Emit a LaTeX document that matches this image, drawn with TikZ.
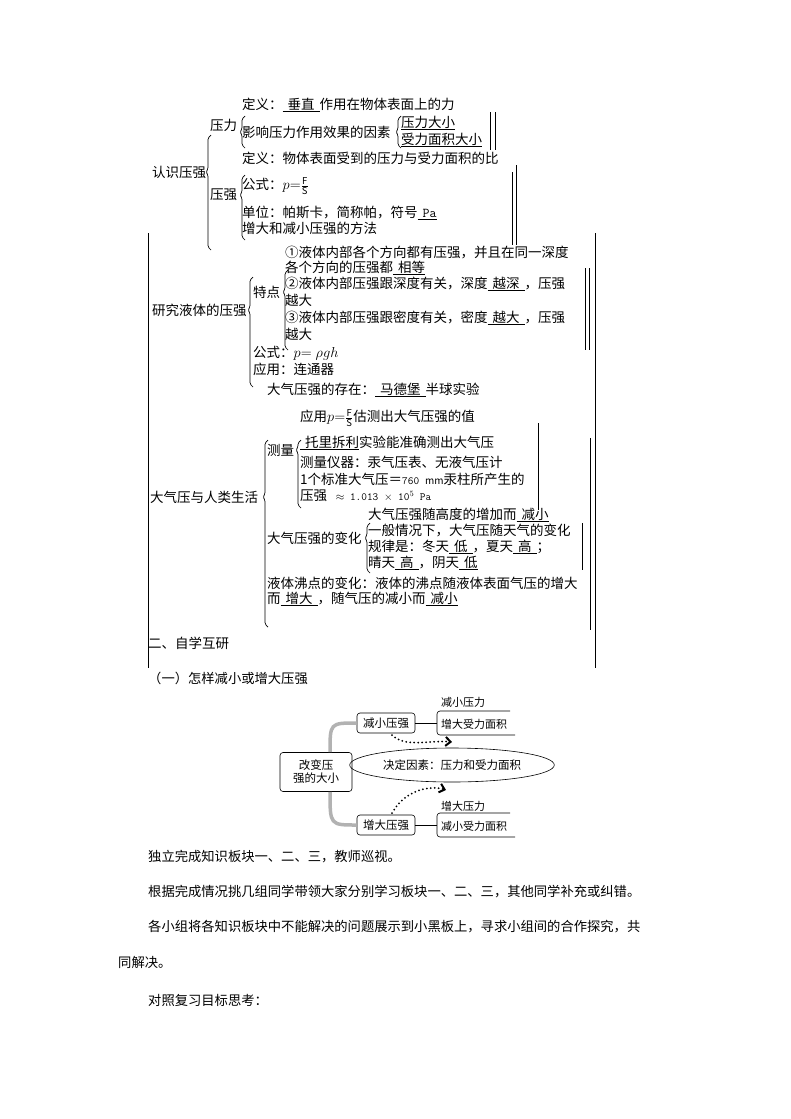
\documentclass[tikz,border=0pt]{standalone}
\usepackage{fontspec}
\setmainfont{Noto Sans CJK SC}
\usetikzlibrary{arrows.meta,shapes.geometric}
\newcommand{\bk}[1]{\underline{\hspace{5pt}#1\hspace{5pt}}}
\newcommand{\bkr}[1]{\underline{\hspace{5pt}#1}}
\newcommand{\lbr}[4]{\draw[br] (#1+3,#2) -- (#1,#2+3) -- (#1,#4-3) -- (#1-2,#4) -- (#1,#4+3) -- (#1,#3-3) -- (#1+3,#3);}
\begin{document}
\begin{tikzpicture}[x=1pt,y=-1pt,
  tx/.style={anchor=west,inner sep=0pt,font=\fontsize{13.5}{14}\selectfont},
  bt/.style={anchor=west,inner sep=0pt,font=\fontsize{13.3}{14}\selectfont},
  sm/.style={anchor=west,inner sep=0pt,font=\fontsize{11}{12}\selectfont},
  br/.style={line width=0.7pt,rounded corners=1.5pt},
  vl/.style={line width=0.8pt},
  box/.style={draw,rounded corners=3pt,line width=0.6pt,font=\fontsize{11.5}{13}\selectfont,align=center,inner sep=2pt}]
\useasboundingbox (0,0) rectangle (790,1119);
% --- 认识压强
\node[tx] (a0) at (152,172) {认识压强};
\lbr{208}{135}{250}{172}
\node[tx] (a1) at (210,125) {压力};
\lbr{242}{116}{148}{132}
\node[tx] (a2) at (242,105) {定义：\bk{垂直}作用在物体表面上的力};
\node[tx] (a3) at (242,132) {影响压力作用效果的因素};
\lbr{398}{116}{148}{132}
\node[tx] (a4) at (401,123) {\underline{压力大小}};
\node[tx] (a5) at (401,140) {\underline{受力面积大小}};
\draw[vl] (490,112) -- (490,150);
\draw[vl] (495,112) -- (495,150);
\node[tx] (a6) at (242,158) {定义：物体表面受到的压力与受力面积的比};
\node[tx] (a7) at (210,195) {压强};
\lbr{242}{175}{240}{195}
\node[tx] (a8) at (242,186) {公式：$p{=}\frac{\mathit F}{\mathit S}$};
\node[tx] (a9) at (242,213) {单位：帕斯卡，简称帕，符号\bkr{\texttt{Pa}}};
\node[tx] (a10) at (242,228) {增大和减小压强的方法};
\draw[vl] (512,172) -- (512,245);
\draw[vl] (516,165) -- (516,245);
% --- 液体
\draw[vl] (148,233) -- (148,668);
\draw[vl] (595,233) -- (595,668);
\node[tx] (b0) at (152,310) {研究液体的压强};
\lbr{250}{277}{387}{310}
\node[tx] (b1) at (253,292) {特点};
\lbr{285}{270}{350}{292}
\node[tx] (b2) at (285,252) {①液体内部各个方向都有压强，并且在同一深度};
\node[tx] (b3) at (285,268) {各个方向的压强都\bkr{相等}};
\node[tx] (b4) at (285,284) {②液体内部压强跟深度有关，深度\bk{越深}，压强};
\node[tx] (b5) at (285,300) {越大};
\node[tx] (b6) at (285,318) {③液体内部压强跟密度有关，密度\bk{越大}，压强};
\node[tx] (b7) at (285,334) {越大};
\draw[vl] (585,268) -- (585,350);
\draw[vl] (589,268) -- (589,350);
\node[tx] (b8) at (253,353) {公式：$p{=}\;\rho gh$};
\node[tx] (b9) at (253,369) {应用：连通器};
% --- 大气压
\node[tx] (c0) at (267,390) {大气压强的存在：\bk{马德堡}半球实验};
\node[tx] (c1) at (150,497) {大气压与人类生活};
\lbr{265}{440}{627}{497}
\node[tx] (c2) at (300,418) {应用$p{=}\frac{\mathit F}{\mathit S}$估测出大气压强的值};
\node[tx] (c3) at (267,450) {测量};
\lbr{298}{440}{508}{450}
\node[tx] (c4) at (300,443) {\bkr{托里拆利}实验能准确测出大气压};
\node[tx] (c5) at (300,462) {测量仪器：汞气压表、无液气压计};
\node[tx] (c6) at (300,479) {1个标准大气压＝{\fontsize{11}{12}\selectfont\texttt{760}}\hspace{6pt}{\fontsize{10}{12}\selectfont mm}汞柱所产生的};
\node[tx] (c7) at (300,496) {压强 {\fontsize{11}{12}\selectfont\texttt{ $\approx$ 1.013 $\times$ 10$^{5}$ Pa}}};
\draw[vl] (538,423) -- (538,510);
\node[tx] (c8) at (368,515) {大气压强随高度的增加而\bkr{减小}};
\node[tx] (c9) at (267,538) {大气压强的变化};
\lbr{367}{523}{573}{538}
\node[tx] (c10) at (368,530) {一般情况下，大气压随天气的变化};
\node[tx] (c11) at (368,547) {规律是：冬天\bk{低}，夏天\bk{高}；};
\node[tx] (c12) at (368,563) {晴天\bk{高}，阴天\bkr{低}};
\draw[vl] (582,523) -- (582,570);
\draw[vl] (590,438) -- (590,630);
\node[tx] (c13) at (267,583) {液体沸点的变化：液体的沸点随液体表面气压的增大};
\node[tx] (c14) at (267,599) {而\bk{增大}，随气压的减小而\bkr{减小}};
\node[tx] (d0) at (148,643) {二、自学互研};
\node[bt] (d1) at (148,678) {（一）怎样减小或增大压强};
% --- 图
\node[box,minimum width=72pt,minimum height=39pt] (m) at (316,772) {改变压\\强的大小};
\node[box,minimum width=58pt,minimum height=20pt] (jx) at (386,723) {减小压强};
\node[box,minimum width=58pt,minimum height=20pt] (zd) at (386,825) {增大压强};
\node[draw,ellipse,line width=0.6pt,minimum width=164pt,minimum height=34pt,font=\fontsize{11.5}{13}\selectfont] (e) at (452,765) {决定因素：压力和受力面积};
\draw[gray!60,line width=3.5pt] (m.north) ++(14,0) coordinate (m1) .. controls (330,723) .. (jx.west);
\draw[gray!60,line width=3.5pt] (m.south) ++(14,0) coordinate (m2) .. controls (330,825) .. (zd.west);
\coordinate (j1) at (437,723);
\coordinate (z1) at (437,825);
\draw[line width=0.6pt] (jx.east) -- (j1);
\draw[line width=0.6pt] (zd.east) -- (z1);
\draw[line width=0.6pt,rounded corners=3pt] (510,711) -- (437,711) -- (437,735) -- (515,735);
\draw[line width=0.6pt,rounded corners=3pt] (510,813) -- (437,813) -- (437,837) -- (515,837);
\node[sm] (k1) at (441,702) {减小压力};
\node[sm] (k2) at (441,724) {增大受力面积};
\node[sm] (k3) at (441,806) {增大压力};
\node[sm] (k4) at (441,826) {减小受力面积};
\draw[line width=2pt,dash pattern=on 0pt off 4pt,line cap=round,-{Straight Barb[length=5pt,width=9pt,line width=2pt]}] (392,735) .. controls (405,748) and (430,740) .. (452,742);
\draw[line width=2pt,dash pattern=on 0pt off 4pt,line cap=round,-{Straight Barb[length=5pt,width=9pt,line width=2pt]}] (392,813) .. controls (405,790) and (430,785) .. (446,790);
% --- 正文
\node[bt] (p1) at (148,857) {独立完成知识板块一、二、三，教师巡视。};
\node[bt] (p2) at (148,892) {根据完成情况挑几组同学带领大家分别学习板块一、二、三，其他同学补充或纠错。};
\node[bt] (p3) at (148,927) {各小组将各知识板块中不能解决的问题展示到小黑板上，寻求小组间的合作探究，共};
\node[bt] (p4) at (118,962) {同解决。};
\node[bt] (p5) at (148,1000) {对照复习目标思考：};
\end{tikzpicture}
\end{document}
